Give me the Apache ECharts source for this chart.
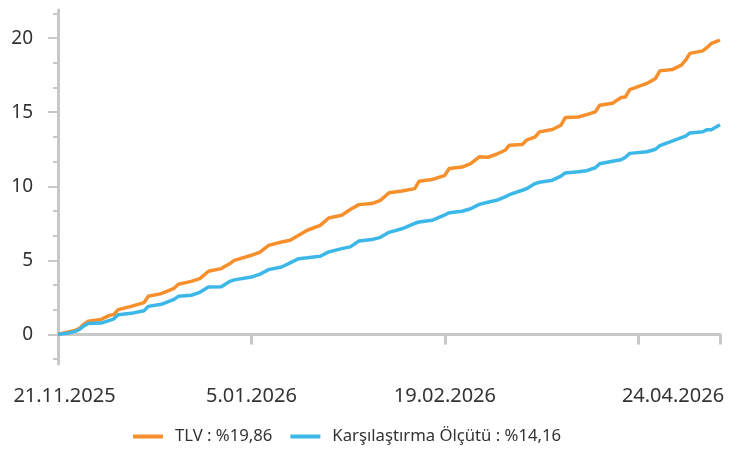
<!DOCTYPE html>
<html>
<head>
<meta charset="utf-8">
<script src="https://cdn.jsdelivr.net/npm/echarts@6/dist/echarts.min.js"></script>
<style>
html,body{margin:0;padding:0;background:#fff;}
#c{width:735px;height:455px;}
</style>
</head>
<body>
<div id="c"></div>
<script>
// Days since 21.11.2025
const days = [0,2,4,5,6,7,10,12,13,14,17,20,21,24,27,28,31,33,35,38,40,41,45,47,49,52,54,56,58,61,63,66,68,70,73,75,77,80,83,84,87,90,91,94,96,98,100,102,104,105,108,109,111,112,115,117,118,121,123,125,126,129,131,132,133,137,139,140,143,145,146,147,150,151,152,154];
const tlv = [0,0.14,0.27,0.41,0.68,0.88,1.01,1.28,1.35,1.67,1.89,2.14,2.57,2.75,3.11,3.38,3.58,3.76,4.26,4.44,4.78,5.00,5.34,5.56,6.01,6.24,6.35,6.69,7.03,7.36,7.86,8.04,8.43,8.76,8.83,9.05,9.56,9.68,9.84,10.34,10.45,10.74,11.20,11.30,11.53,11.99,11.96,12.16,12.43,12.77,12.82,13.11,13.33,13.67,13.83,14.12,14.64,14.68,14.84,15.02,15.47,15.61,15.99,16.03,16.53,16.94,17.28,17.79,17.89,18.18,18.51,18.97,19.14,19.37,19.64,19.86];
const benchmark = [0,0.07,0.20,0.33,0.57,0.74,0.76,0.95,1.05,1.33,1.42,1.60,1.89,2.03,2.36,2.57,2.64,2.84,3.20,3.21,3.58,3.68,3.87,4.07,4.37,4.55,4.83,5.11,5.17,5.27,5.57,5.79,5.91,6.30,6.40,6.55,6.89,7.13,7.50,7.59,7.70,8.07,8.21,8.31,8.48,8.78,8.92,9.05,9.28,9.43,9.73,9.83,10.18,10.27,10.41,10.68,10.90,10.98,11.05,11.25,11.52,11.69,11.79,11.96,12.22,12.33,12.50,12.74,13.07,13.28,13.38,13.60,13.68,13.82,13.82,14.16];
const seriesNames = ['TLV : %19,86', 'Karşılaştırma Ölçütü : %14,16'];
const xTickDays = [0,45,90,135,154];
const xTickLabels = {0:'21.11.2025',45:'5.01.2026',90:'19.02.2026',154:'24.04.2026'};
const yMajorTicks = [0,5,10,15,20];
const yMinorTicks = [-1.667,1.667,3.333,6.667,8.333,11.667,13.333,16.667,18.333,21.667];

const chart = echarts.init(document.getElementById('c'), null, {renderer:'canvas'});
const axisColor = '#c8c8c8';
const font = 'Noto Sans';
const yBase = {
  type:'value', min:-2, max:21.9, position:'left',
  splitLine:{show:false},
};
chart.setOption({
  animation:false,
  backgroundColor:'#fff',
  grid:{left:58,right:15,top:10,bottom:91,containLabel:false},
  legend:{
    left:133, top:428, padding:0,
    icon:'rect', itemWidth:30, itemHeight:4, itemGap:18,
    textStyle:{fontFamily:font,fontSize:16.7,color:'#333',padding:[0,0,0,7]},
    data:seriesNames
  },
  xAxis:{
    type:'value', min:0, max:154,
    splitLine:{show:false},
    axisLine:{show:true,lineStyle:{color:axisColor,width:3}},
    axisTick:{show:true,customValues:xTickDays,length:10,lineStyle:{color:axisColor,width:3}},
    axisLabel:{
      customValues:[0,45,90,154],
      showMinLabel:true, showMaxLabel:true,
      margin:22,
      formatter:function(v){
        const t = xTickLabels[v] || '';
        if (v===0) return '{f|'+t+'}';
        if (v===154) return '{l|'+t+'}';
        return '{m|'+t+'}';
      },
      rich:{
        f:{fontFamily:font,fontSize:20,color:'#333',padding:[0,0,0,13]},
        l:{fontFamily:font,fontSize:20,color:'#333',padding:[0,94,0,0]},
        m:{fontFamily:font,fontSize:20,color:'#333'}
      }
    }
  },
  yAxis:[
    Object.assign({}, yBase, {
      axisLine:{show:true,lineStyle:{color:axisColor,width:3}},
      axisTick:{show:true,customValues:yMajorTicks,length:10,lineStyle:{color:axisColor,width:2}},
      axisLabel:{customValues:yMajorTicks,margin:25,fontFamily:font,fontSize:19,color:'#333'}
    }),
    Object.assign({}, yBase, {
      axisLine:{show:false},
      axisTick:{show:true,customValues:yMinorTicks,length:5,lineStyle:{color:axisColor,width:2}},
      axisLabel:{show:false}
    })
  ],
  series:[
    {name:seriesNames[0],type:'line',showSymbol:false,symbol:'none',
     data:days.map((d,i)=>[d,tlv[i]]),
     lineStyle:{color:'#f7902c',width:3.5},itemStyle:{color:'#f7902c'}},
    {name:seriesNames[1],type:'line',showSymbol:false,symbol:'none',
     data:days.map((d,i)=>[d,benchmark[i]]),
     lineStyle:{color:'#3cb8e8',width:3.5},itemStyle:{color:'#3cb8e8'}}
  ]
});
</script>
</body>
</html>
